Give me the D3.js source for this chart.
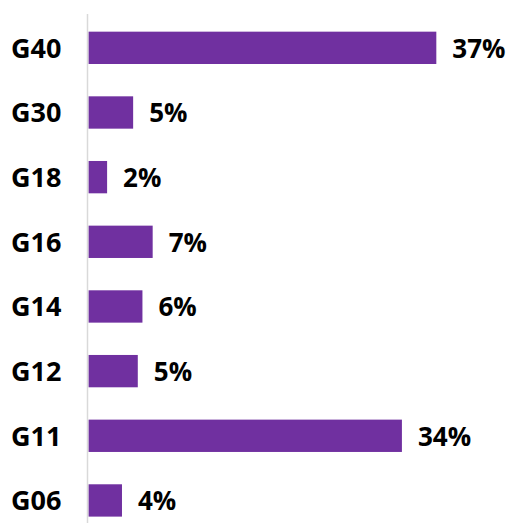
<!DOCTYPE html>
<html>
<head>
<meta charset="utf-8">
<script src="https://cdn.jsdelivr.net/npm/d3@7"></script>
<style>
  html, body { margin: 0; padding: 0; background: #fff; }
  svg { display: block; }
</style>
</head>
<body>
<div id="wrapper"></div>
<script>
const categories = ["G40", "G30", "G18", "G16", "G14", "G12", "G11", "G06"]
const values = [37.4, 4.8, 2.0, 6.9, 5.8, 5.3, 33.7, 3.6]
const valueLabels = ["37%", "5%", "2%", "7%", "6%", "5%", "34%", "4%"]

function drawBarChart() {
    const data = categories.map((c, i) => ({ cat: c, value: values[i], label: valueLabels[i] }))

    // Dimensions
    let dimensions = {
        width: 513,
        height: 523,
        margins: { top: 15.5, left: 88.5 },
    }

    const svg = d3.select("#wrapper")
        .append("svg")
            .attr("width", dimensions.width)
            .attr("height", dimensions.height)

    // Scales
    const yScale = d3.scaleBand()
        .domain(categories)
        .range([dimensions.margins.top, dimensions.margins.top + 8 * 64.66])
        .paddingInner(0.5)
        .paddingOuter(0.25)

    const xScale = d3.scaleLinear()
        .domain([0, 40])
        .range([dimensions.margins.left, dimensions.margins.left + 372])

    // Bars
    svg.append("g")
        .selectAll("rect")
        .data(data)
        .join("rect")
            .attr("x", xScale(0))
            .attr("y", d => yScale(d.cat))
            .attr("width", d => xScale(d.value) - xScale(0))
            .attr("height", yScale.bandwidth())
            .attr("fill", "#7030a0")

    // Axis line
    const yAxis = svg.append("g")
        .attr("transform", `translate(${xScale(0) - 1}, 0)`)
        .call(d3.axisLeft(yScale).tickSize(0).tickFormat(""))
    yAxis.select(".domain")
        .attr("d", `M0,14V${dimensions.height}`)
        .attr("stroke", "#d9d9d9")
        .attr("stroke-width", 1.5)

    // Category labels
    svg.append("g")
        .selectAll("text")
        .data(data)
        .join("text")
            .attr("x", 11)
            .attr("y", d => yScale(d.cat) + yScale.bandwidth() / 2)
            .attr("dy", "0.36em")
            .attr("font-family", "'Open Sans', sans-serif")
            .attr("font-weight", "bold")
            .attr("font-size", 27)
            .attr("fill", "#000")
            .text(d => d.cat)

    // Value labels
    svg.append("g")
        .selectAll("text")
        .data(data)
        .join("text")
            .attr("x", d => xScale(d.value) + 16)
            .attr("y", d => yScale(d.cat) + yScale.bandwidth() / 2)
            .attr("dy", "0.38em")
            .attr("font-family", "'Open Sans', sans-serif")
            .attr("font-weight", "bold")
            .attr("font-size", 26)
            .attr("fill", "#000")
            .text(d => d.label)
}
drawBarChart();
</script>
</body>
</html>
